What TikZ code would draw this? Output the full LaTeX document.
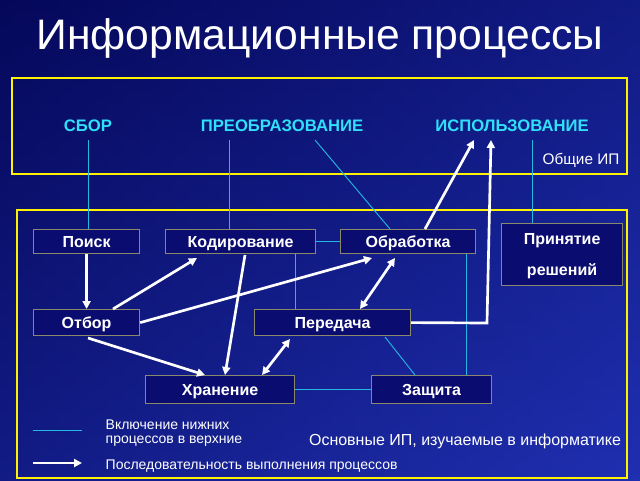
\documentclass[tikz,border=0pt]{standalone}
\usepackage{fontspec}
\setmainfont{Liberation Sans}
\usetikzlibrary{arrows.meta}
\definecolor{bgA}{HTML}{05085A}
\definecolor{bgB}{HTML}{1F2FB0}
\definecolor{boxfill}{HTML}{0A0C70}
\definecolor{boxline}{HTML}{8A8A6A}
\definecolor{cy}{HTML}{22B8E0}
\definecolor{cyt}{HTML}{30E0F8}
\tikzset{
 proc/.style={draw=boxline,fill=boxfill,line width=0.9pt,text=white,font=\bfseries\fontsize{12}{14}\selectfont,inner sep=0pt,anchor=north west,text depth=0pt},
 frame/.style={draw=yellow,line width=1.6pt},
 incl/.style={draw=cy,line width=0.7pt},
 seq/.style={draw=white,line width=2pt,-{Triangle[length=6pt,width=6pt]}},
 seqb/.style={draw=white,line width=2pt,{Triangle[length=6pt,width=6pt]}-{Triangle[length=6pt,width=6pt]}},
 top/.style={text=cyt,font=\bfseries\fontsize{12.5}{14}\selectfont},
 leg/.style={text=white,font=\fontsize{10.5}{12}\selectfont,anchor=west}
}
\begin{document}
\begin{tikzpicture}[x=0.75pt,y=-0.75pt]
\useasboundingbox (0,0) rectangle (640,480);
\shade[left color=bgA,right color=bgB] (0,0) rectangle (640,480);
\shade[top color=bgA,bottom color=bgB,opacity=0.5] (0,0) rectangle (640,480);
\node[text=white,font=\fontsize{32}{36}\selectfont] (title) at (320,38) {Информационные процессы};
\draw[frame] (12,78) rectangle (627,174);
\draw[frame] (17,210) rectangle (627,478);
\node[top] (sbor) at (88,126) {СБОР};
\node[top] (preo) at (282,126) {ПРЕОБРАЗОВАНИЕ};
\node[top] (isp) at (512,126) {ИСПОЛЬЗОВАНИЕ};
\node[text=white,font=\fontsize{11.5}{13}\selectfont] (obsh) at (581,160) {Общие ИП};
\node[proc,minimum width=106*0.75pt,minimum height=24*0.75pt] (poisk) at (33,229) {Поиск};
\node[proc,minimum width=150*0.75pt,minimum height=24*0.75pt] (kod) at (165,229) {Кодирование};
\node[proc,minimum width=135*0.75pt,minimum height=24*0.75pt] (obr) at (340,229) {Обработка};
\node[proc,minimum width=121*0.75pt,minimum height=62*0.75pt,align=center] (prin) at (501,223) {Принятие\\[9pt]решений};
\node[proc,minimum width=106*0.75pt,minimum height=26*0.75pt] (otb) at (33,309) {Отбор};
\node[proc,minimum width=156*0.75pt,minimum height=26*0.75pt] (per) at (254,309) {Передача};
\node[proc,minimum width=149*0.75pt,minimum height=28*0.75pt] (hran) at (145,375) {Хранение};
\node[proc,minimum width=120*0.75pt,minimum height=28*0.75pt] (zas) at (371,375) {Защита};
% inclusion lines
\draw[incl] (88,140) -- (poisk.north -| 88,0);
\draw[incl] (229,140) -- (kod.north -| 229,0);
\draw[incl] (315,140) -- (obr.north -| 390,0);
\draw[incl] (532,140) -- (prin.north -| 532,0);
\draw[incl] (kod.east) -- (obr.west);
\draw[incl] (kod.south -| 295,0) -- (per.north -| 295,0);
\draw[incl] (obr.south -| 466,0) -- (zas.north -| 466,0);
\draw[incl] (385,337) -- (zas.north -| 415,0);
\draw[incl] (hran.east) -- (zas.west);
% sequence arrows
\draw[seq] (poisk.south) -- (otb.north);
\draw[seq] (otb.north -| 113,0) -- (197,258);
\draw[seq] (otb.east) -- (372,258);
\draw[seq] (245,255) -- (hran.north -| 225,0);
\draw[seq] (88,338) -- (hran.north -| 205,0);
\draw[seqb] (hran.north -| 262,0) -- (290,339);
\draw[seqb] (per.north -| 360,0) -- (395,258);
\draw[seq] (obr.north -| 425,0) -- (474,140);
\draw[seq] (per.east) -- (487,323) -- (491,140);
% legend
\coordinate (l1a) at (33,430); \coordinate (l1b) at (82,430);
\coordinate (l2a) at (33,463); \coordinate (l2b) at (82,463);
\draw[incl] (l1a) -- (l1b);
\draw[seq] (l2a) -- (l2b);
\node[leg] (t1) at (101,425) {Включение нижних};
\node[leg] (t2) at (101,441) {процессов в верхние};
\node[leg] (t3) at (101,466) {Последовательность выполнения процессов};
\node[text=white,font=\fontsize{12}{14}\selectfont] (osn) at (465,441) {Основные ИП, изучаемые в информатике};
\end{tikzpicture}
\end{document}
